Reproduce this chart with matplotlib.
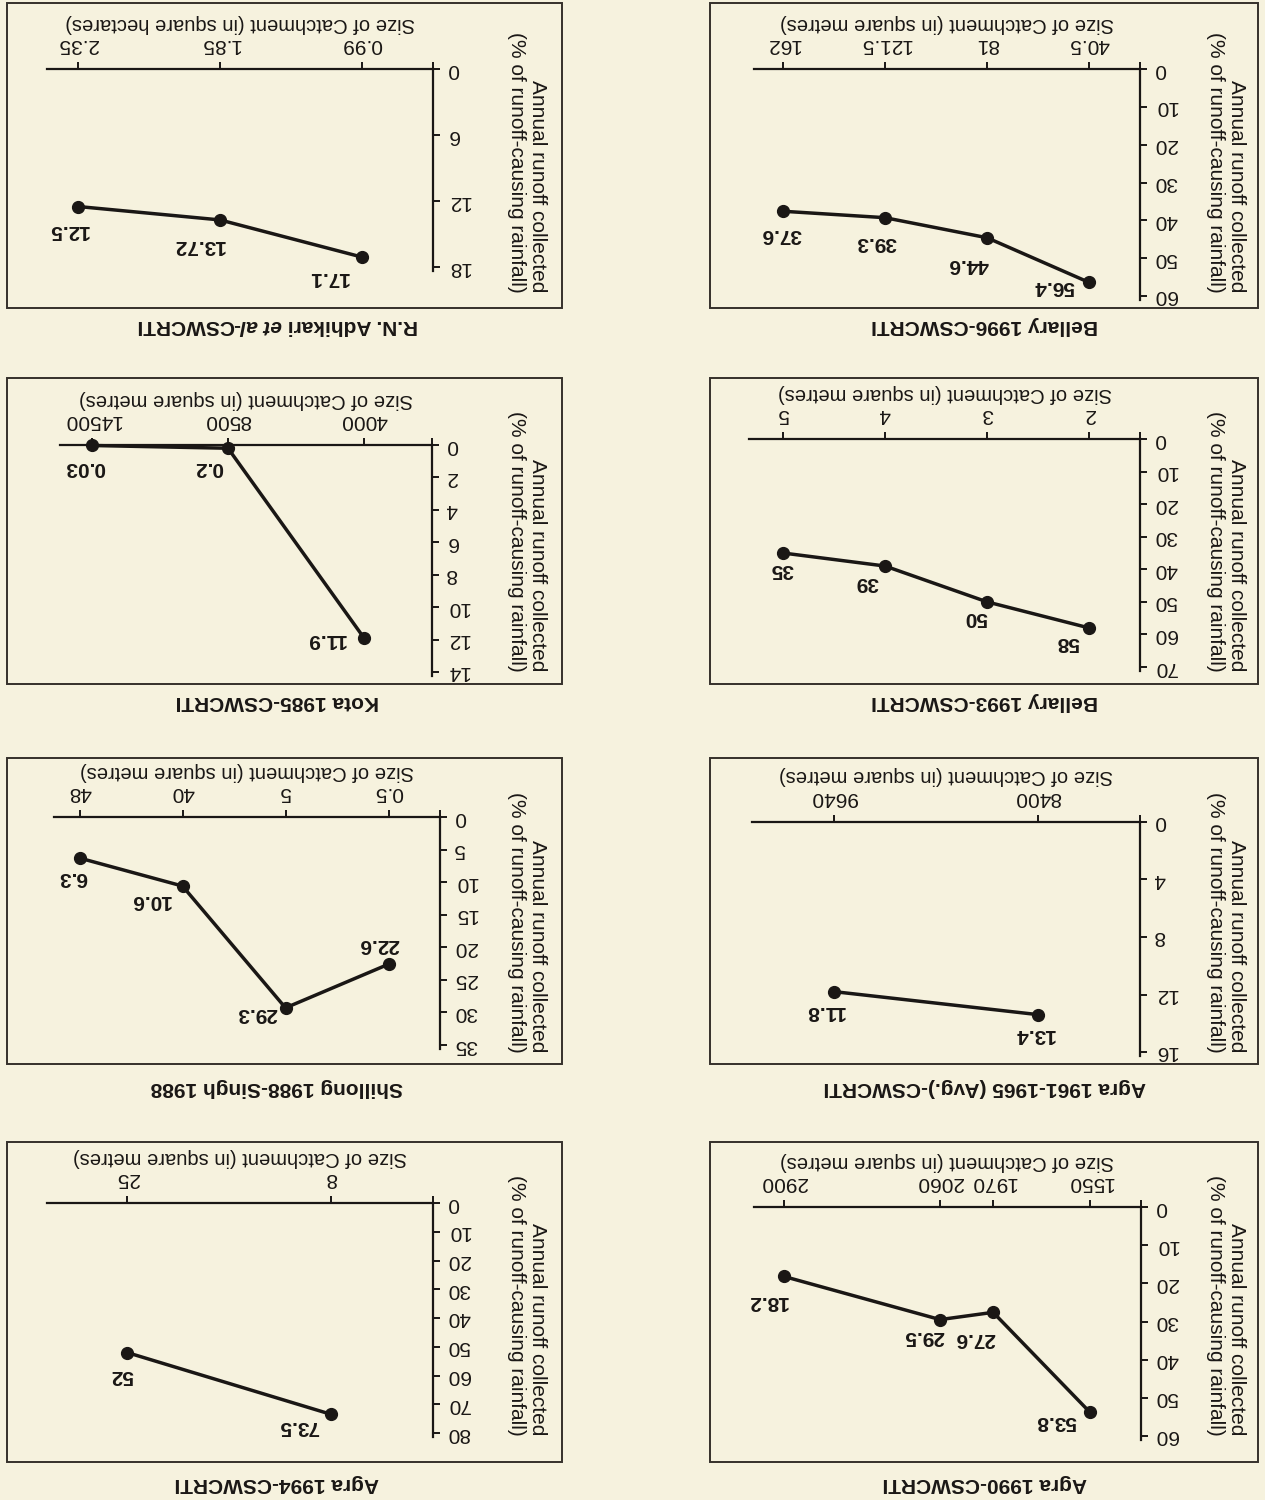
import matplotlib
matplotlib.use("Agg")
import matplotlib.pyplot as plt
from matplotlib.patches import Rectangle

plt.rcParams["font.family"] = ["Liberation Sans", "DejaVu Sans"]

# ---------------------------------------------------------------- data
bellary96_title = "Bellary 1996-CSWCRTI"
bellary96_sizes = ["40.5", "81", "121.5", "162"]
bellary96_runoff = [56.4, 44.6, 39.3, 37.6]
bellary96_yticks = [0, 10, 20, 30, 40, 50, 60]

adhikari_title = ("R.N. Adhikari", "et al", "-CSWCRTI")
adhikari_sizes = ["0.99", "1.85", "2.35"]
adhikari_runoff = [17.1, 13.72, 12.5]
adhikari_yticks = [0, 6, 12, 18]

bellary93_title = "Bellary 1993-CSWCRTI"
bellary93_sizes = ["2", "3", "4", "5"]
bellary93_runoff = [58, 50, 39, 35]
bellary93_yticks = [0, 10, 20, 30, 40, 50, 60, 70]

kota_title = "Kota 1985-CSWCRTI"
kota_sizes = ["4000", "8500", "14500"]
kota_runoff = [11.9, 0.2, 0.03]
kota_yticks = [0, 2, 4, 6, 8, 10, 12, 14]

agra61_title = "Agra 1961-1965 (Avg.)-CSWCRTI"
agra61_sizes = ["8400", "9640"]
agra61_runoff = [13.4, 11.8]
agra61_yticks = [0, 4, 8, 12, 16]

shillong_title = "Shillong 1988-Singh 1988"
shillong_sizes = ["0.5", "5", "40", "48"]
shillong_runoff = [22.6, 29.3, 10.6, 6.3]
shillong_yticks = [0, 5, 10, 15, 20, 25, 30, 35]

agra90_title = "Agra 1990-CSWCRTI"
agra90_sizes = ["1550", "1970", "2060", "2900"]
agra90_runoff = [53.8, 27.6, 29.5, 18.2]
agra90_yticks = [0, 10, 20, 30, 40, 50, 60]

agra94_title = "Agra 1994-CSWCRTI"
agra94_sizes = ["8", "25"]
agra94_runoff = [73.5, 52]
agra94_yticks = [0, 10, 20, 30, 40, 50, 60, 70, 80]

xlabel_m2 = "Size of Catchment (in square metres)"
xlabel_ha = "Size of Catchment (in square hectares)"
ylabel = "Annual runoff collected\n(% of runoff-causing rainfall)"

# ---------------------------------------------------------------- page layout
# The page is printed upside down: every element is placed in page pixels
# (origin top-left) and all text is turned through 180 degrees.
W, H = 1265, 1500
PAPER = "#f6f2de"
INK = "#1a1715"

COLS = {
    "L": dict(box=(7, 562), ylab_x=527, title_x=277),
    "R": dict(box=(710, 1258), ylab_x=1226, title_x=985),
}
ROWS = [
    dict(box=(3, 308), ylab_y=162, title_y=325),
    dict(box=(378, 684), ylab_y=541, title_y=702),
    dict(box=(758, 1064), ylab_y=922, title_y=1088),
    dict(box=(1142, 1462), ylab_y=1305, title_y=1484),
]

panels = [
    dict(col="R", row=0, title=bellary96_title, sizes=bellary96_sizes,
         runoff=bellary96_runoff, yticks=bellary96_yticks, xlabel=xlabel_m2,
         origin=(1140, 69), left=754, ylast=296, unit=102,
         slots=[0.5, 1.5, 2.5, 3.5],
         offsets=[(-35, 4), (-19, 27), (-9, 25), (-2, 23)]),
    dict(col="L", row=0, title=adhikari_title, sizes=adhikari_sizes,
         runoff=adhikari_runoff, yticks=adhikari_yticks, xlabel=xlabel_ha,
         origin=(433, 69), left=47, ylast=267, unit=142,
         slots=[0.5, 1.5, 2.5],
         offsets=[(-34, 20), (-22, 26), (-10, 24)]),
    dict(col="R", row=1, title=bellary93_title, sizes=bellary93_sizes,
         runoff=bellary93_runoff, yticks=bellary93_yticks, xlabel=xlabel_m2,
         origin=(1140, 439), left=749, ylast=667, unit=102,
         slots=[0.5, 1.5, 2.5, 3.5],
         offsets=[(-21, 15), (-11, 16), (-18, 16), (-1, 17)]),
    dict(col="L", row=1, title=kota_title, sizes=kota_sizes,
         runoff=kota_runoff, yticks=kota_yticks, xlabel=xlabel_m2,
         origin=(432, 445), left=60, ylast=672, unit=136,
         slots=[0.5, 1.5, 2.5],
         offsets=[(-38, 2), (-19, 19), (-7, 22)]),
    dict(col="R", row=2, title=agra61_title, sizes=agra61_sizes,
         runoff=agra61_runoff, yticks=agra61_yticks, xlabel=xlabel_m2,
         origin=(1140, 822), left=752, ylast=1052, unit=102,
         slots=[1.0, 3.0],
         offsets=[(-4, 20), (-9, 20)]),
    dict(col="L", row=2, title=shillong_title, sizes=shillong_sizes,
         runoff=shillong_runoff, yticks=shillong_yticks, xlabel=xlabel_m2,
         origin=(440, 817), left=54, ylast=1045, unit=103,
         slots=[0.5, 1.5, 2.5, 3.5],
         offsets=[(-10, -20), (-29, 6), (-32, 14), (-7, 19)]),
    dict(col="R", row=3, title=agra90_title, sizes=agra90_sizes,
         runoff=agra90_runoff, yticks=agra90_yticks, xlabel=xlabel_m2,
         origin=(1141, 1207), left=754, ylast=1436, unit=102,
         slots=[0.5, 1.45, 1.97, 3.5],
         offsets=[(-34, 9), (-18, 26), (-16, 17), (-17, 25)]),
    dict(col="L", row=3, title=agra94_title, sizes=agra94_sizes,
         runoff=agra94_runoff, yticks=agra94_yticks, xlabel=xlabel_m2,
         origin=(433, 1203), left=47, ylast=1433, unit=102,
         slots=[1.0, 3.0],
         offsets=[(-32, 12), (-5, 23)]),
]

TICK_FS = 15
VAL_FS = 15
XLAB_FS = 14.5
YLAB_FS = 15
TITLE_FS = 15

fig = plt.figure(figsize=(W / 100, H / 100), dpi=100, facecolor=PAPER)


def fx(x):
    return x / W


def fy(y):
    return 1 - y / H


def page_text(x, y, s, **kw):
    kw.setdefault("color", INK)
    return fig.text(fx(x), fy(y), s, **kw)


for p in panels:
    ox, oy = p["origin"]
    top_tick = p["yticks"][-1]
    ppu = (p["ylast"] - oy) / top_tick
    ybot = p["ylast"] + 4
    ax = fig.add_axes([fx(p["left"]), fy(ybot),
                       (ox - p["left"]) / W, (ybot - oy) / H])
    ax.patch.set_alpha(0)
    ax.set_xlim((ox - p["left"]) / p["unit"], 0)
    ax.set_ylim(top_tick + 4 / ppu, 0)

    for side in ("left", "bottom"):
        ax.spines[side].set_visible(False)
    for side in ("top", "right"):
        ax.spines[side].set_linewidth(1.6)
        ax.spines[side].set_color(INK)

    ax.set_xticks([0] + p["slots"], [""] + p["sizes"])
    ax.set_yticks(p["yticks"], [str(t) for t in p["yticks"]])
    ax.tick_params(axis="x", top=True, bottom=False, labeltop=True,
                   labelbottom=False, direction="out", length=5, width=1.4,
                   pad=6, labelsize=TICK_FS, labelrotation=180, colors=INK)
    ax.tick_params(axis="y", left=False, right=True, labelleft=False,
                   labelright=True, direction="out", length=5, width=1.4,
                   pad=5, labelsize=TICK_FS, labelrotation=180, colors=INK)
    for lbl in ax.get_yticklabels():
        lbl.set_verticalalignment("center")

    ax.plot(p["slots"], p["runoff"], color=INK, lw=2.5, marker="o", ms=8.5,
            clip_on=False, zorder=5)
    for x, v, (dx, dy) in zip(p["slots"], p["runoff"], p["offsets"]):
        ax.annotate(f"{v:g}", (x, v), xytext=(dx, -dy),
                    textcoords="offset pixels", ha="center", va="center",
                    rotation=180, fontsize=VAL_FS, fontweight="bold",
                    color=INK)

    col, row = COLS[p["col"]], ROWS[p["row"]]

    # axis titles
    page_text((ox + p["left"]) / 2, oy - 46, p["xlabel"], rotation=180,
              ha="center", va="center", fontsize=XLAB_FS)
    page_text(col["ylab_x"], row["ylab_y"], ylabel, rotation=270,
              ha="center", va="center", multialignment="right",
              fontsize=YLAB_FS, linespacing=1.15)

    # frame around the panel
    bx0, bx1 = col["box"]
    by0, by1 = row["box"]
    fig.add_artist(Rectangle((fx(bx0), fy(by1)), (bx1 - bx0) / W,
                             (by1 - by0) / H, transform=fig.transFigure,
                             fill=False, lw=1.4, ec="#35302b"))

    # panel caption (below the frame on the inverted page)
    if isinstance(p["title"], str):
        page_text(col["title_x"], row["title_y"], p["title"], rotation=180,
                  ha="center", va="center", fontsize=TITLE_FS,
                  fontweight="bold")
    else:
        renderer = fig.canvas.get_renderer()
        styles = ["normal", "italic", "normal"]
        pieces = []
        for s, st in zip(p["title"], styles):
            t = page_text(0, row["title_y"], s, rotation=180, ha="right",
                          va="center", fontsize=TITLE_FS, fontweight="bold",
                          style=st)
            pieces.append(t)
        widths = [t.get_window_extent(renderer).width for t in pieces]
        probe = page_text(0, 0, "a a", fontsize=TITLE_FS, fontweight="bold")
        probe2 = page_text(0, 0, "aa", fontsize=TITLE_FS, fontweight="bold")
        space = (probe.get_window_extent(renderer).width
                 - probe2.get_window_extent(renderer).width)
        probe.remove()
        probe2.remove()
        gaps = [space, 0, 0]
        total = sum(widths) + sum(gaps)
        start = col["title_x"] + total / 2
        for t, w, g in zip(pieces, widths, gaps):
            t.set_x(fx(start))
            start -= w + g

fig.savefig("out.png", dpi=100, facecolor=PAPER)
